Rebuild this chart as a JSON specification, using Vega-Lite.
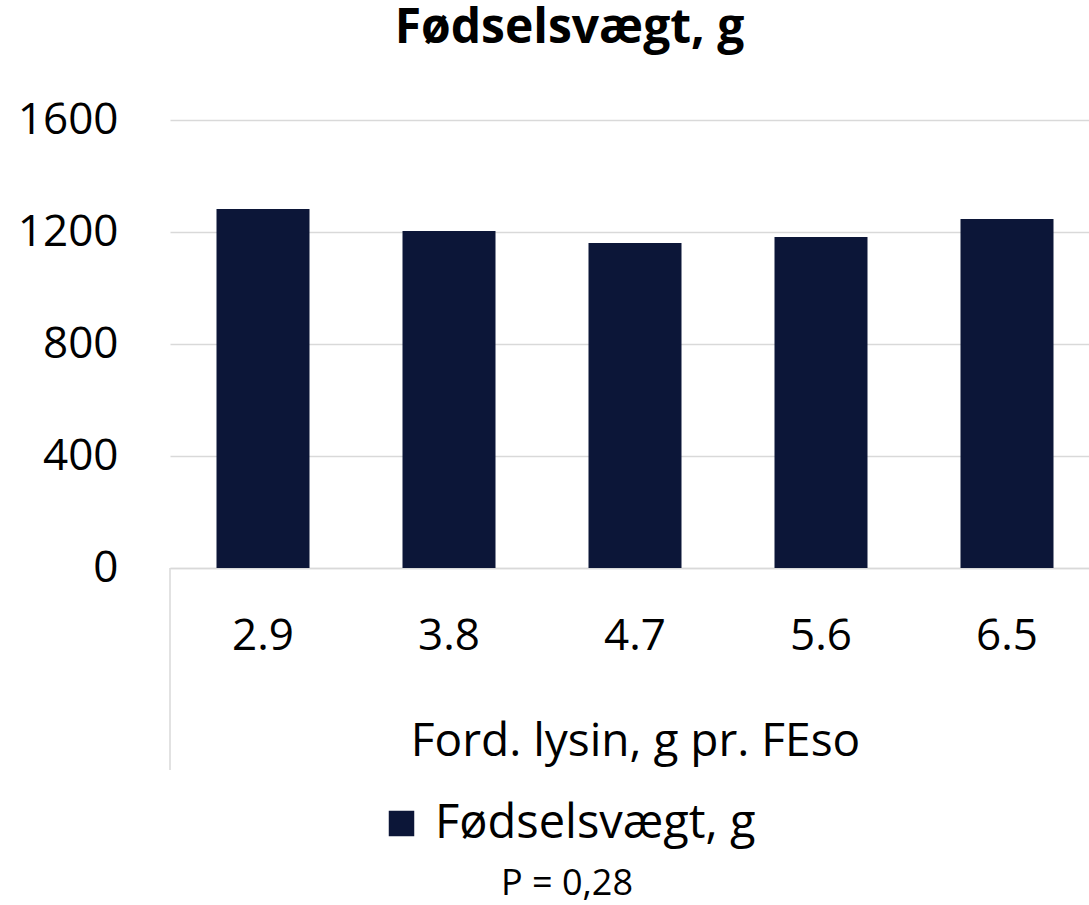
{
  "$schema": "https://vega.github.io/schema/vega-lite/v6.json",
  "autosize": {"type": "none"},
  "padding": {"left": 170, "top": 120, "right": 0, "bottom": 337},
  "width": 919,
  "height": 448,
  "background": "white",
  "config": {
    "font": "Open Sans",
    "view": {"stroke": null}
  },
  "title": {
    "text": "Fødselsvægt, g",
    "font": "Open Sans",
    "fontSize": 48,
    "fontWeight": "bold",
    "color": "#000000",
    "anchor": "middle",
    "baseline": "alphabetic",
    "offset": 7,
    "dx": -60
  },
  "layer": [
    {
      "data": {
        "values": [
          {"lysin": "2.9", "vaegt": 1282, "serie": "Fødselsvægt, g"},
          {"lysin": "3.8", "vaegt": 1204, "serie": "Fødselsvægt, g"},
          {"lysin": "4.7", "vaegt": 1161, "serie": "Fødselsvægt, g"},
          {"lysin": "5.6", "vaegt": 1182, "serie": "Fødselsvægt, g"},
          {"lysin": "6.5", "vaegt": 1246, "serie": "Fødselsvægt, g"}
        ]
      },
      "mark": {"type": "bar"},
      "encoding": {
        "x": {
          "field": "lysin",
          "type": "ordinal",
          "sort": null,
          "scale": {"range": [0, 930], "paddingInner": 0.5, "paddingOuter": 0.25},
          "axis": {
            "title": "Ford. lysin, g pr. FEso",
            "labelAngle": 0,
            "labelFontSize": 44,
            "labelColor": "#000000",
            "labelBaseline": "middle",
            "labelPadding": 68,
            "ticks": false,
            "domain": true,
            "domainColor": "#d9d9d9",
            "domainWidth": 1.5,
            "titleFontSize": 46,
            "titleFontWeight": "normal",
            "titleColor": "#000000",
            "titleBaseline": "middle",
            "titleY": 173,
            "grid": false
          }
        },
        "y": {
          "field": "vaegt",
          "type": "quantitative",
          "scale": {"domain": [0, 1600], "nice": false, "zero": true},
          "axis": {
            "title": null,
            "values": [0, 400, 800, 1200, 1600],
            "format": "d",
            "labelFontSize": 44,
            "labelColor": "#000000",
            "labelPadding": 52,
            "ticks": false,
            "domain": false,
            "grid": true,
            "gridColor": "#d9d9d9",
            "gridWidth": 1.5
          }
        },
        "color": {
          "field": "serie",
          "type": "nominal",
          "scale": {"range": ["#0c1638"]},
          "legend": {
            "orient": "none",
            "legendX": 208,
            "legendY": 680,
            "padding": 0,
            "title": "P = 0,28",
            "titleOrient": "bottom",
            "titleAnchor": "middle",
            "titleFontSize": 36,
            "titleFontWeight": "normal",
            "titleColor": "#000000",
            "titlePadding": 20,
            "symbolType": "square",
            "symbolSize": 650,
            "symbolStrokeWidth": 0,
            "symbolOpacity": 1,
            "labelFontSize": 47,
            "labelColor": "#000000",
            "labelOffset": 10,
            "labelLimit": 500
          }
        }
      }
    },
    {
      "data": {"values": [{}]},
      "mark": {"type": "rule", "color": "#d9d9d9", "strokeWidth": 1.5},
      "encoding": {
        "x": {"datum": "2.9", "type": "ordinal", "bandPosition": -0.5},
        "y": {"datum": 0, "type": "quantitative"},
        "y2": {"datum": -721}
      }
    }
  ]
}
